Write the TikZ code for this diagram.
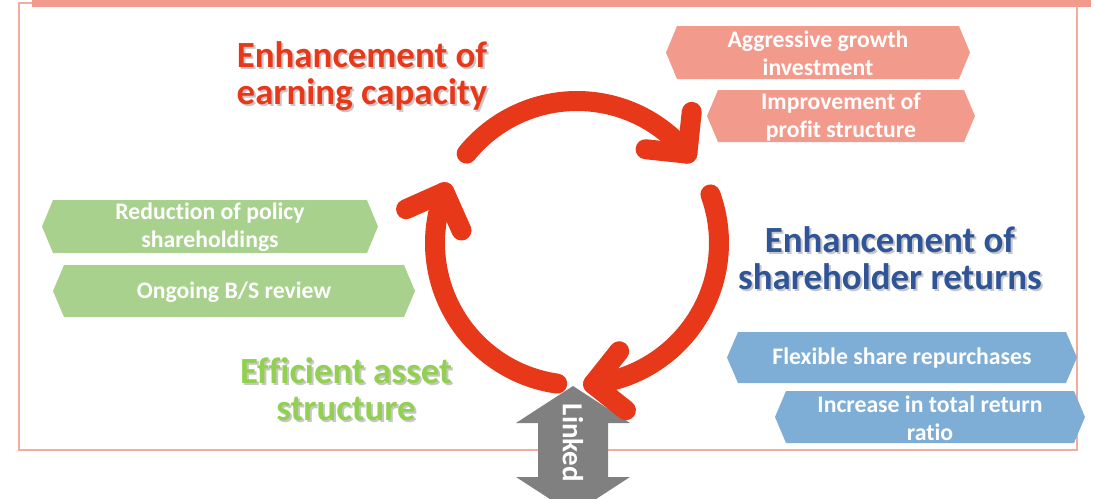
\documentclass[tikz,border=0pt]{standalone}
\usepackage{fontspec}
\setmainfont[Ligatures=NoCommon]{Carlito}
\usetikzlibrary{calc}
\definecolor{rougeCycle}{RGB}{232,56,26}
\definecolor{bleuTitre}{RGB}{47,85,151}
\definecolor{vertTitre}{RGB}{146,208,80}
\definecolor{saumon}{RGB}{242,155,140}
\definecolor{vertPale}{RGB}{169,209,142}
\definecolor{bleuPale}{RGB}{126,174,214}
\definecolor{grisLien}{RGB}{128,128,128}
\definecolor{roseCadre}{RGB}{245,172,158}

\begin{document}
\begin{tikzpicture}[x=0.02cm, y=-0.02cm,
  boxtext/.style={text=white, align=center, inner sep=0pt, font=\fontsize{13.5}{16}\selectfont\bfseries},
  heading/.style={align=center, inner sep=0pt, font=\fontsize{21}{21}\selectfont\bfseries},
  headshadow/.style={heading, text=black!22},
  cyclearc/.style={draw=rougeCycle, line width=0.4cm, line cap=round, line join=round}]

\useasboundingbox (0,0) rectangle (1096,498);
\clip (0,0) rectangle (1096,498);

% frame
\draw[roseCadre, line width=0.04cm] (19,2.5) rectangle (1077,450);
\fill[saumon] (32,-2) rectangle (1091,7);

% linked arrow
\fill[grisLien] (573,386) -- (630,423) -- (608,423) -- (608,477) -- (630,477) -- (573,514)
  -- (516,477) -- (538,477) -- (538,423) -- (516,423) -- cycle;
\node[rotate=-90, text=white, inner sep=0pt, font=\fontsize{16.5}{16}\selectfont\bfseries] (linked) at (573,443) {Linked};

% cycle
\coordinate (cyc) at (577,243);
\foreach \s/\e in {-141/-39, -20/83.5, 98/201} {
  \draw[cyclearc] ($(cyc)+(\s:142)$) arc[start angle=\s, end angle=\e, radius=142];
  \draw[cyclearc] ($(cyc)+(\e:142)+(\e-45:42)$) -- ($(cyc)+(\e:142)$) -- ($(cyc)+(\e:142)+(\e-135:42)$);
}

% headings
\node[headshadow] at (364,78) {Enhancement of\\earning capacity};
\node[heading, text=rougeCycle] (earning) at (362,76) {Enhancement of\\earning capacity};
\node[headshadow] at (892,260) {Enhancement of\\shareholder returns};
\node[heading, text=bleuTitre] (returns) at (890,258) {Enhancement of\\shareholder returns};
\node[headshadow] at (348,391.5) {Efficient asset\\structure};
\node[heading, text=vertTitre] (assets) at (346,389.5) {Efficient asset\\structure};

% earning boxes
\fill[saumon] (666,52.5) -- (677,26) -- (959,26) -- (970,52.5) -- (959,79) -- (677,79) -- cycle;
\node[boxtext] (growth) at (818,53.5) {Aggressive growth\\investment};
\fill[saumon] (707,116) -- (718,90) -- (964,90) -- (975,116) -- (964,142) -- (718,142) -- cycle;
\node[boxtext] (profit) at (841,117) {Improvement of\\profit structure};

% asset boxes
\fill[vertPale] (42,226.5) -- (53,200) -- (367,200) -- (378,226.5) -- (367,253) -- (53,253) -- cycle;
\node[boxtext] (policy) at (210,227.5) {Reduction of policy\\shareholdings};
\fill[vertPale] (53,291) -- (64,265) -- (404,265) -- (415,291) -- (404,317) -- (64,317) -- cycle;
\node[boxtext] (review) at (234,292) {Ongoing B/S review};

% return boxes
\fill[bleuPale] (727,357.5) -- (738,332) -- (1066,332) -- (1077,357.5) -- (1066,383) -- (738,383) -- cycle;
\node[boxtext] (buyback) at (902,358.5) {Flexible share repurchases};
\fill[bleuPale] (775,417) -- (786,391) -- (1074,391) -- (1085,417) -- (1074,443) -- (786,443) -- cycle;
\node[boxtext] (payout) at (930,418) {Increase in total return\\ratio};

\end{tikzpicture}
\end{document}
